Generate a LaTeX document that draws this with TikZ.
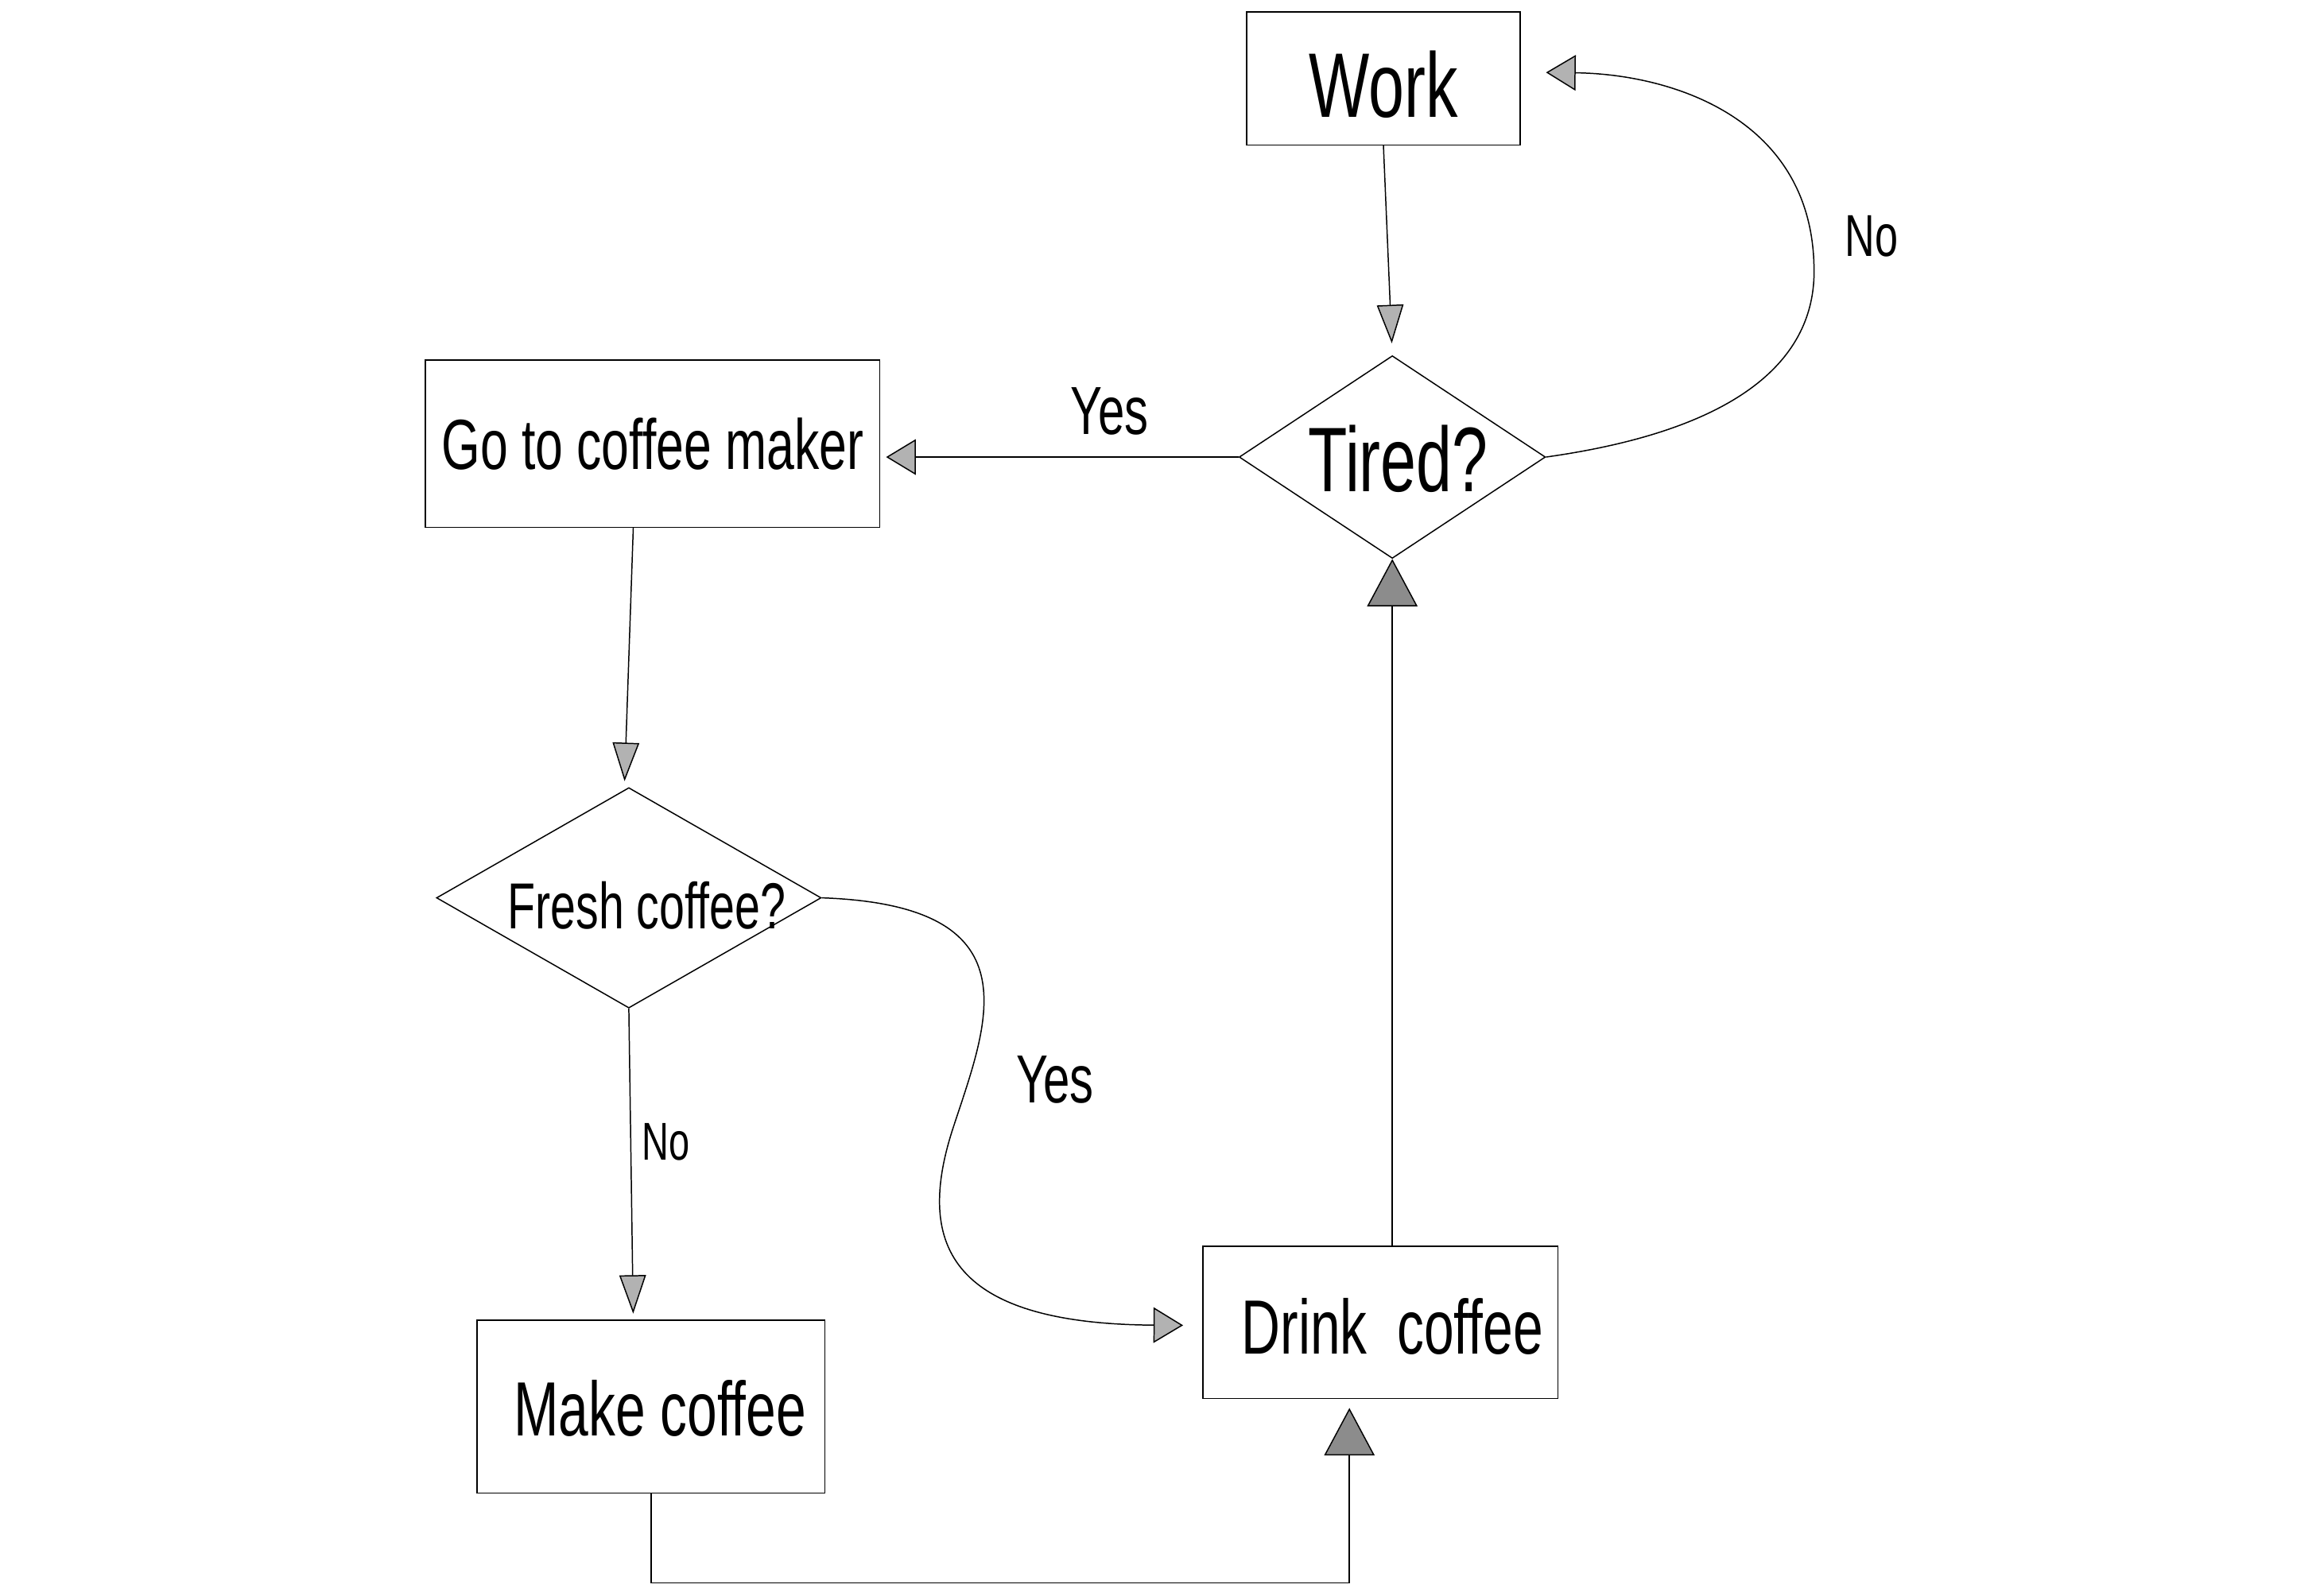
\documentclass[tikz,border=0pt]{standalone}
\usepackage{fontspec}
\newfontfamily\handfont[FakeStretch=0.7]{Liberation Sans}
\usetikzlibrary{arrows.meta,shapes.geometric}

\begin{document}
\begin{tikzpicture}[x=0.5pt,y=-0.5pt,
  line width=0.4pt,
  stepbox/.style={draw,rectangle,inner sep=0pt},
  choice/.style={draw,diamond,inner sep=0pt,aspect=1},
  txt/.style={inner sep=0pt,font=\handfont\fontsize{#1pt}{#1pt}\selectfont},
  tipS/.style={-{Triangle[length=13pt,width=9pt,fill=black!30]}},
  tipW/.style={-{Triangle[length=10pt,width=12pt,fill=black!30]}},
  tipL/.style={-{Triangle[length=16pt,width=17pt,fill=black!45]}}
]
\useasboundingbox (0,0) rectangle (1568,1079);

% process boxes
\node[stepbox,minimum width=92.5pt,minimum height=45pt] (work) at (935,53) {};
\node[txt=31] (worktext) at (935,57) {Work};

\node[stepbox,minimum width=153.5pt,minimum height=56.5pt] (goto) at (441,300) {};
\node[txt=24] (gototext) at (441,300) {Go to coffee maker};

\node[stepbox,minimum width=117.5pt,minimum height=58.5pt] (make) at (440,951) {};
\node[txt=26] (maketext) at (446,952) {Make coffee};

\node[stepbox,minimum width=120pt,minimum height=51.5pt] (drink) at (933,894) {};
\node[txt=26] (drinktext) at (941,897) {Drink\ \ coffee};

% decisions
\node[choice,minimum width=103.5pt,minimum height=68.5pt] (tired) at (941,309) {};
\node[txt=31] (tiredtext) at (945,310) {Tired?};

\node[choice,minimum width=130pt,minimum height=74.5pt] (fresh) at (425,607) {};
\node[txt=22] (freshtext) at (437,612) {Fresh coffee?};

% branch labels
\node[txt=23] (yes1) at (750,278) {Yes};
\node[txt=20] (no1) at (1265,160) {No};
\node[txt=18] (no2) at (450,772) {No};
\node[txt=23] (yes2) at (713,730) {Yes};

% flow
\draw[tipS,shorten >=4pt] (work.south) -- (tired.north);
\draw[tipW,shorten >=2pt] (tired.west) -- (goto.east |- tired.west);
\draw[tipW] (tired.east) .. controls (1180,290) and (1228,240) .. (1226,180)
  .. controls (1224,80) and (1130,50) .. ([xshift=8.5pt,yshift=2pt]work.east);
\draw[tipS,shorten >=2pt] ([xshift=-6.5pt]goto.south) -- ([xshift=-1.5pt]fresh.north);
\draw[tipS,shorten >=2pt] (fresh.south) -- ([xshift=-6pt]make.north);
\draw[tipW] (fresh.east) .. controls (700,612) and (668,690) .. (645,760)
  .. controls (618,840) and (640,895) .. ([xshift=-6.5pt,yshift=-1pt]drink.west);
\coordinate (m1) at (440,1070);
\coordinate (m2) at (912,1070);
\draw[tipL,shorten >=3pt] (make.south) -- (m1) -- (m2) -- (m2 |- drink.south);
\draw[tipL] ([xshift=4pt]drink.north) -- (tired.south);
\end{tikzpicture}
\end{document}
